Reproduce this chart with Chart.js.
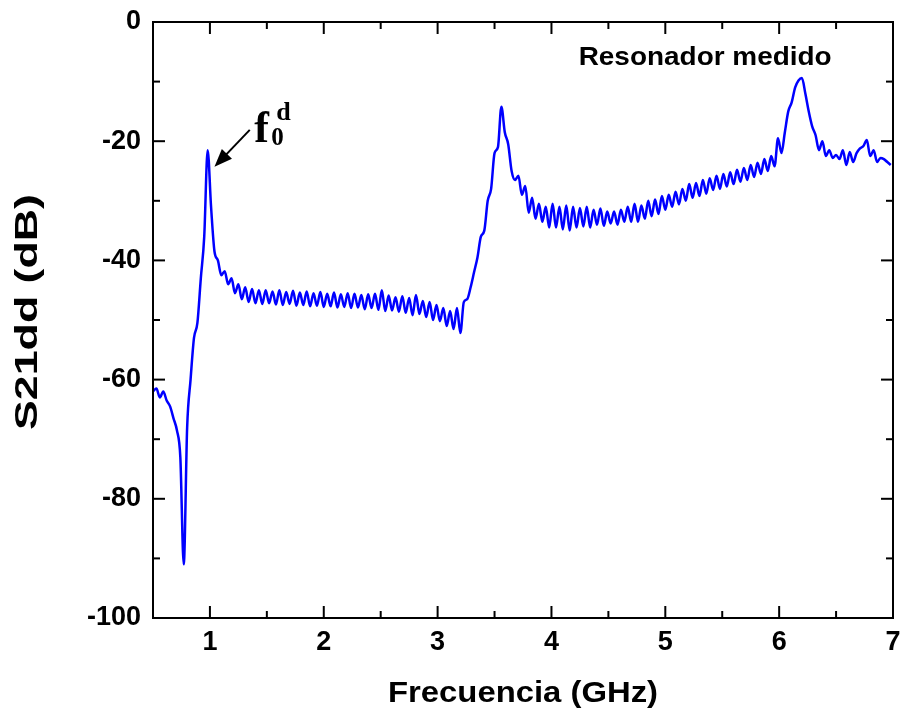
<!DOCTYPE html>
<html>
<head>
    <title>S21dd Resonador medido</title>
    <script src="https://cdn.jsdelivr.net/npm/chart.js"></script>
    <style>
        html, body { margin: 0; padding: 0; background: #fff; }
        #wrap { width: 905px; height: 723px; }
    </style>
</head>
<body>
<div id="wrap"><canvas id="chart"></canvas></div>
<script>
    // frequency grid: 0.50 GHz to 6.98 GHz, one sample every 0.03 GHz
    var freqStart = 0.5;
    var freqStep = 0.03;

    var s21dd = [
        -62, -61.5, -63, -62, -63.5, -64.5, -66.5, -68.5, -73, -91,
        -68, -60, -53, -50.5, -43, -36, -21.5, -31, -38.5, -40,
        -42.5, -41.8, -44, -43, -45.5, -44, -46.5, -44.5, -47, -44.8,
        -47.2, -45, -47.3, -45, -47.2, -45.2, -47.4, -45, -47.5, -45.3,
        -47.3, -45.1, -47.6, -45.4, -47.5, -45.2, -47.7, -45.5, -47.6, -45.3,
        -47.8, -45.6, -47.7, -45.4, -47.9, -45.7, -47.8, -45.5, -48, -45.6,
        -47.9, -45.8, -48.2, -45.7, -48, -45.6, -48.3, -45, -48.5, -45.9,
        -48.4, -46.2, -48.6, -46, -48.8, -46.3, -49.2, -45.8, -49, -46.8,
        -49.5, -47, -50, -47.5, -50.2, -48, -51, -48.5, -51.5, -48,
        -52.2, -47, -46.5, -44.5, -42, -39.5, -36, -35, -30, -28,
        -22, -21, -14.2, -18.5, -20.5, -25, -26.5, -25.8, -29, -27.5,
        -32, -29.5, -33, -30.5, -33.5, -31, -34.5, -30.5, -34.5, -31,
        -34.8, -30.8, -35, -31, -34.5, -31.2, -34.3, -31, -34.5, -31.5,
        -34, -31.3, -34.2, -31.8, -33.8, -31.8, -34, -31.5, -33.5, -31,
        -33.5, -30.5, -33.5, -30.8, -33, -30, -32.6, -29.8, -32.2, -29.2,
        -31.5, -29, -31, -28.5, -30.6, -28, -30, -27.2, -29.5, -27,
        -29.2, -26.5, -28.8, -26.2, -28.2, -25.8, -28, -25.5, -27.6, -25.2,
        -27.2, -24.8, -26.8, -24.5, -26.5, -24, -26, -23.6, -25.5, -23,
        -25, -22.5, -24.2, -19.5, -22, -18.5, -15, -13.5, -11, -9.8,
        -9.4, -12, -15, -17.5, -19, -21.5, -20, -22.5, -21.5, -22.8,
        -22.3, -23, -21.5, -24, -21.8, -23.5, -22, -21.2, -20.8, -19.8,
        -22.5, -21.5, -23.5, -22.8, -23, -23.5, -24
    ];

    var xTicks = [1, 2, 3, 4, 5, 6, 7];
    var xMinorTicks = [1.5, 2.5, 3.5, 4.5, 5.5, 6.5];
    var yTicks = [0, -20, -40, -60, -80, -100];
    var yMinorTicks = [-10, -30, -50, -70, -90];

    var points = s21dd.map(function (v, i) {
        return { x: +(freqStart + i * freqStep).toFixed(2), y: v };
    });

    var sans = "'Liberation Sans', Arial, sans-serif";
    var serif = "'Liberation Serif', 'Times New Roman', serif";

    // draws text stretched to a given width (the original figure is stretched)
    function wideText(ctx, txt, cx, cy, font, width, rot) {
        ctx.save();
        ctx.font = font;
        ctx.textAlign = 'center';
        ctx.textBaseline = 'middle';
        ctx.translate(cx, cy);
        if (rot) ctx.rotate(rot);
        ctx.scale(width / ctx.measureText(txt).width, 1);
        ctx.fillText(txt, 0, 0);
        ctx.restore();
    }

    // inward ticks, frame, axis titles and the two text notes
    var decor = {
        id: 'decor',
        afterDatasetsDraw: function (chart) {
            var ctx = chart.ctx, a = chart.chartArea;
            var x = chart.scales.x, y = chart.scales.y;
            ctx.save();
            ctx.strokeStyle = '#000';
            ctx.fillStyle = '#000';
            ctx.lineWidth = 2;
            function seg(x1, y1, x2, y2) {
                ctx.beginPath(); ctx.moveTo(x1, y1); ctx.lineTo(x2, y2); ctx.stroke();
            }
            xTicks.forEach(function (v) {
                var p = x.getPixelForValue(v);
                seg(p, a.bottom, p, a.bottom - 12); seg(p, a.top, p, a.top + 12);
            });
            xMinorTicks.forEach(function (v) {
                var p = x.getPixelForValue(v);
                seg(p, a.bottom, p, a.bottom - 7); seg(p, a.top, p, a.top + 7);
            });
            yTicks.forEach(function (v) {
                var p = y.getPixelForValue(v);
                seg(a.left, p, a.left + 12, p); seg(a.right, p, a.right - 12, p);
            });
            yMinorTicks.forEach(function (v) {
                var p = y.getPixelForValue(v);
                seg(a.left, p, a.left + 7, p); seg(a.right, p, a.right - 7, p);
            });
            ctx.strokeRect(a.left, a.top, a.right - a.left, a.bottom - a.top);

            // axis titles
            wideText(ctx, 'Frecuencia (GHz)', (a.left + a.right) / 2, a.bottom + 76,
                'bold 30px ' + sans, 270, 0);
            wideText(ctx, 'S21dd (dB)', 28, (a.top + a.bottom) / 2 - 8,
                'bold 32px ' + sans, 236, -Math.PI / 2);

            // arrow to the first resonance
            var tx = x.getPixelForValue(1.35), ty = y.getPixelForValue(-18.1);
            var hx = x.getPixelForValue(1.04), hy = y.getPixelForValue(-24.3);
            var ang = Math.atan2(hy - ty, hx - tx);
            var c = Math.cos(ang), s = Math.sin(ang);
            seg(tx, ty, hx - 12 * c, hy - 12 * s);
            ctx.beginPath();
            ctx.moveTo(hx, hy);
            ctx.lineTo(hx - 18 * c + 7 * s, hy - 18 * s - 7 * c);
            ctx.lineTo(hx - 18 * c - 7 * s, hy - 18 * s + 7 * c);
            ctx.closePath();
            ctx.fill();

            // f0^d label
            var fx = x.getPixelForValue(1.39), fy = y.getPixelForValue(-20.1);
            ctx.textAlign = 'left';
            ctx.textBaseline = 'alphabetic';
            ctx.font = 'bold 44px ' + serif;
            ctx.fillText('f', fx, fy);
            ctx.font = 'bold 25px ' + serif;
            ctx.fillText('0', fx + 17, fy + 3);
            ctx.font = 'bold 26px ' + serif;
            ctx.fillText('d', fx + 22, fy - 22);

            // curve name
            wideText(ctx, 'Resonador medido', x.getPixelForValue(5.35), y.getPixelForValue(-6),
                'bold 25px ' + sans, 253, 0);
            ctx.restore();
        }
    };

    var ctx = document.getElementById('chart').getContext('2d');
    var chart = new Chart(ctx, {
        type: 'line',
        data: {
            datasets: [{
                label: 'Resonador medido',
                data: points,
                borderColor: '#0000ff',
                borderWidth: 2.5,
                fill: false,
                pointRadius: 0,
                cubicInterpolationMode: 'monotone'
            }]
        },
        options: {
            responsive: true,
            maintainAspectRatio: false,
            animation: false,
            layout: { padding: { top: 22, right: 12, left: 0, bottom: 0 } },
            scales: {
                x: {
                    type: 'linear',
                    min: 0.5,
                    max: 7,
                    afterBuildTicks: function (s) { s.ticks = xTicks.map(function (v) { return { value: v }; }); },
                    afterFit: function (s) { s.height = 105; s.paddingLeft = 0; s.paddingRight = 0; },
                    grid: { display: true, color: 'transparent', drawTicks: false },
                    border: { display: false },
                    ticks: {
                        color: '#000',
                        padding: 8,
                        maxRotation: 0,
                        font: { family: sans, size: 27, weight: 'bold' }
                    }
                },
                y: {
                    min: -100,
                    max: 0,
                    afterBuildTicks: function (s) { s.ticks = yTicks.map(function (v) { return { value: v }; }); },
                    afterFit: function (s) { s.width = 153; s.paddingTop = 0; s.paddingBottom = 0; },
                    grid: { display: true, color: 'transparent', drawTicks: false },
                    border: { display: false },
                    ticks: {
                        color: '#000',
                        padding: 12,
                        font: { family: sans, size: 27, weight: 'bold' }
                    }
                }
            },
            plugins: {
                legend: { display: false },
                tooltip: { enabled: false }
            }
        },
        plugins: [decor]
    });
</script>
</body>
</html>
